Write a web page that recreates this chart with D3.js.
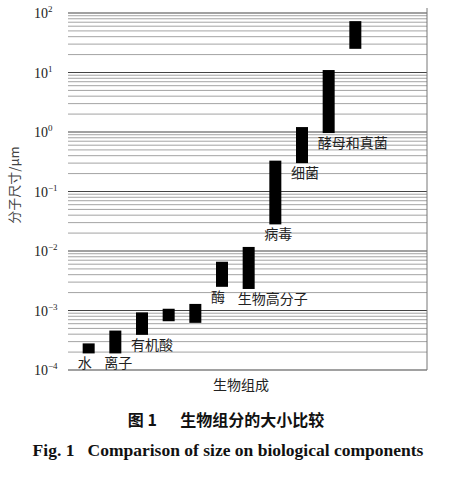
<!DOCTYPE html>
<html><head><meta charset="utf-8">
<script src="https://d3js.org/d3.v7.min.js"></script>
<style>body{margin:0;background:#fff}</style>
</head><body>
<script>
// data (size ranges, µm)
var categories = ["水","离子","有机酸","c4","c5","酶","生物高分子","病毒","细菌","酵母和真菌","c11"];
var labels = ["水","离子","有机酸","","","酶","生物高分子","病毒","细菌","酵母和真菌",""];
var lows  = [1.9e-4, 1.9e-4, 3.9e-4, 6.6e-4, 6.2e-4, 2.5e-3, 2.3e-3, 0.028, 0.30, 0.96, 25];
var highs = [2.8e-4, 4.6e-4, 9.3e-4, 1.07e-3, 1.29e-3, 6.6e-3, 1.17e-2, 0.33, 1.21, 11, 73];
var tickExps = [-4,-3,-2,-1,0,1,2];

var W = 450, H = 484;
var svg = d3.select("body").append("svg").attr("width", W).attr("height", H);

var y = d3.scaleLog().domain([1e-4, 1e2]).range([370, 13]);
var x = d3.scaleBand().domain(categories).range([68, 376]).padding(0.55);

// grid
var minor = [];
tickExps.slice(0, -1).forEach(function(e){
  for (var m = 2; m <= 9; m++) minor.push(m * Math.pow(10, e));
});
svg.append("g").selectAll("line").data(minor).join("line")
  .attr("x1", 68).attr("x2", 427)
  .attr("y1", function(d){ return y(d); }).attr("y2", function(d){ return y(d); })
  .attr("stroke", "#999").attr("stroke-width", 0.9);
svg.append("g").selectAll("line").data(tickExps).join("line")
  .attr("x1", 68).attr("x2", 427)
  .attr("y1", function(d){ return y(Math.pow(10, d)); }).attr("y2", function(d){ return y(Math.pow(10, d)); })
  .attr("stroke", "#444").attr("stroke-width", 1.1);
svg.append("line").attr("x1", 427).attr("x2", 427).attr("y1", 8).attr("y2", 370).attr("stroke", "#777");

// tick labels
var tl = svg.append("g").selectAll("text").data(tickExps).join("text")
  .attr("x", 34).attr("y", function(d){ return y(Math.pow(10, d)) + 5; })
  .attr("font-family", "Liberation Serif").attr("font-size", 14).attr("fill", "#222");
tl.append("tspan").text("10");
tl.append("tspan").attr("dy", -6).attr("font-size", 9).text(function(d){ return d < 0 ? "\u2212" + (-d) : d; });

// bars
var data = categories.map(function(c, i){ return {c: c, lo: lows[i], hi: highs[i], label: labels[i]}; });
svg.append("g").selectAll("rect").data(data).join("rect")
  .attr("x", function(d){ return x(d.c); })
  .attr("width", x.bandwidth())
  .attr("y", function(d){ return y(d.hi); })
  .attr("height", function(d){ return y(d.lo) - y(d.hi); })
  .attr("fill", "#000");

svg.append("g").selectAll("text").data(data.filter(function(d){ return d.label; })).join("text")
  .attr("x", function(d){ return x(d.c) - 5; })
  .attr("y", function(d){ return y(d.lo) + 15; })
  .attr("font-family", "Noto Sans CJK SC").attr("font-size", 14).attr("fill", "#222")
  .text(function(d){ return d.label; });

// axis titles
svg.append("text").attr("transform", "translate(19,185) rotate(-90)")
  .attr("text-anchor", "middle").attr("font-family", "Noto Sans CJK SC").attr("font-size", 13).attr("fill", "#444")
  .text("分子尺寸/μm");
svg.append("text").attr("x", 241).attr("y", 390).attr("text-anchor", "middle")
  .attr("font-family", "Noto Sans CJK SC").attr("font-size", 14).attr("fill", "#222").text("生物组成");

// caption
svg.append("text").attr("x", 226).attr("y", 426).attr("text-anchor", "middle")
  .attr("font-family", "Noto Sans CJK SC").attr("font-weight", "bold").attr("font-size", 16).attr("fill", "#111")
  .attr("xml:space", "preserve").text("图 1　  生物组分的大小比较");
svg.append("text").attr("x", 228).attr("y", 456).attr("text-anchor", "middle")
  .attr("font-family", "Liberation Serif").attr("font-weight", "bold").attr("font-size", 17.5).attr("fill", "#111")
  .attr("xml:space", "preserve").text("Fig. 1   Comparison of size on biological components");
</script>
</body></html>
